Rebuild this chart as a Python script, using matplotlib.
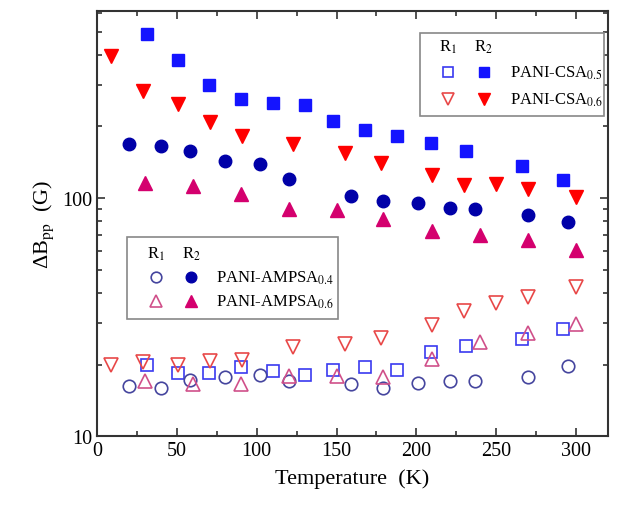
import numpy as np
import matplotlib
matplotlib.use('Agg')
import matplotlib.pyplot as plt
from matplotlib.ticker import MultipleLocator, LogLocator, NullFormatter, FixedLocator
from matplotlib.patches import Rectangle

plt.rcParams['font.family'] = ['Liberation Serif', 'DejaVu Serif']
plt.rcParams['mathtext.fontset'] = 'stix'

# PANI-CSA0.5 (squares)
t_csa05 = [31, 51, 70, 90, 110, 130, 148, 168, 188, 209, 231, 266, 292]
r1_csa05 = [20.0, 18.5, 18.4, 19.6, 18.7, 18.0, 18.9, 19.5, 19.0, 22.5, 24.0, 25.7, 28.1]
r2_csa05 = [489, 380, 298, 260, 250, 245, 211, 194, 182, 170, 157, 137, 119]

# PANI-CSA0.6 (down triangles)
t_csa06 = [9, 29, 51, 71, 91, 123, 155, 178, 210, 230, 250, 270, 300]
r1_csa06 = [20.0, 20.5, 20.0, 20.6, 20.8, 23.8, 24.4, 25.8, 29.3, 33.5, 36.4, 38.3, 42.2]
r2_csa06 = [396, 281, 248, 208, 182, 169, 154, 140, 125, 113, 115, 109, 101]

# PANI-AMPSA0.4 (circles)
t_amp04 = [20, 40, 58, 80, 102, 120, 159, 179, 201, 221, 237, 270, 295]
r1_amp04 = [16.2, 15.9, 17.3, 17.7, 18.0, 17.1, 16.5, 15.9, 16.7, 17.0, 17.0, 17.8, 19.7]
r2_amp04 = [169, 165, 158, 143, 139, 120, 102, 97, 95, 91, 90, 85, 79]

# PANI-AMPSA0.6 (up triangles)
t_amp06 = [30, 60, 90, 120, 150, 179, 210, 240, 270, 300]
r1_amp06 = [17.1, 16.6, 16.5, 17.9, 17.9, 17.8, 21.1, 24.8, 27.0, 29.6]
r2_amp06 = [116, 112, 104, 90, 89, 81.5, 73, 70, 67, 60.5]

# marker styles: (marker, color, size)
sty = {
    'csa05': ('s', '#1414ff', '#3a3af0', 8),
    'csa06': ('v', '#ff0000', '#e84848', 10),
    'amp04': ('o', '#0000a8', '#45459e', 9),
    'amp06': ('^', '#d4006e', '#d0508a', 10),
}

fig = plt.figure(figsize=(6.3, 5.06), dpi=100)
ax = fig.add_axes([0.154, 0.136, 0.811, 0.840])


def draw(x, y1, y2, key):
    m, fc, ec, ms = sty[key]
    ax.plot(x, y1, ls='none', marker=m, ms=ms, mfc='none', mec=ec, mew=1.2)
    ax.plot(x, y2, ls='none', marker=m, ms=ms, mfc=fc, mec=fc)


draw(t_csa05, r1_csa05, r2_csa05, 'csa05')
draw(t_csa06, r1_csa06, r2_csa06, 'csa06')
draw(t_amp04, r1_amp04, r2_amp04, 'amp04')
draw(t_amp06, r1_amp06, r2_amp06, 'amp06')

ax.set_yscale('log')
ax.set_xlim(0, 320)
ax.set_ylim(10, 610)
ax.xaxis.set_major_locator(MultipleLocator(50))
ax.xaxis.set_minor_locator(MultipleLocator(25))
ax.yaxis.set_major_locator(FixedLocator([10, 100]))
ax.yaxis.set_minor_locator(LogLocator(base=10, subs=np.arange(2, 10)))
ax.yaxis.set_minor_formatter(NullFormatter())
ax.set_yticklabels(['10', '100'])
ax.tick_params(which='both', direction='in', top=True, right=True,
               labelsize=14.5, color='#333333', width=1.2)
ax.tick_params(which='major', length=6)
ax.tick_params(which='minor', length=3.5)
for s in ax.spines.values():
    s.set_linewidth(1.5)
    s.set_color('#333333')

ax.set_xlabel('Temperature  (K)', fontsize=16, labelpad=6)
ax.set_ylabel(r'ΔB$_{\mathrm{pp}}$  (G)', fontsize=16, labelpad=4)


def legend_box(x0, y0, x1, y1, xr1, xr2, xlab, yhead, rows):
    ax.add_patch(Rectangle((x0, y0), x1 - x0, y1 - y0, transform=ax.transAxes,
                           fill=True, fc='white', ec='#888888', lw=1.2, zorder=5))
    ax.text(xr1, yhead, r'R$_1$', transform=ax.transAxes, fontsize=12,
            ha='center', va='center', zorder=6)
    ax.text(xr2, yhead, r'R$_2$', transform=ax.transAxes, fontsize=12,
            ha='center', va='center', zorder=6)
    for yy, key, label in rows:
        m, fc, ec, ms = sty[key]
        ax.plot([xr1], [yy], transform=ax.transAxes, ls='none', marker=m, ms=ms * 0.85,
                mfc='none', mec=ec, mew=1.2, zorder=6, clip_on=False)
        ax.plot([xr2], [yy], transform=ax.transAxes, ls='none', marker=m, ms=ms * 0.85,
                mfc=fc, mec=fc, zorder=6, clip_on=False)
        ax.text(xlab, yy, label, transform=ax.transAxes, fontsize=12,
                ha='left', va='center', zorder=6)


legend_box(0.632, 0.753, 0.992, 0.948, 0.687, 0.757, 0.808, 0.918,
           [(0.856, 'csa05', r'PANI-CSA$_{0.5}$'),
            (0.793, 'csa06', r'PANI-CSA$_{0.6}$')])
legend_box(0.059, 0.275, 0.472, 0.468, 0.115, 0.184, 0.233, 0.43,
           [(0.374, 'amp04', r'PANI-AMPSA$_{0.4}$'),
            (0.318, 'amp06', r'PANI-AMPSA$_{0.6}$')])

fig.savefig('out.png', dpi=100)
